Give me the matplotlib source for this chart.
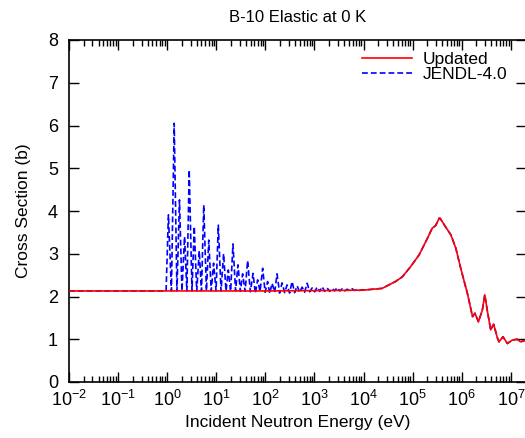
import math
import matplotlib
matplotlib.use("Agg")
import matplotlib.pyplot as plt
from matplotlib.ticker import LogLocator, FixedLocator, FuncFormatter, NullFormatter

plt.rcParams['font.family'] = ['Liberation Sans', 'DejaVu Sans']
plt.rcParams['mathtext.fontset'] = 'custom'
plt.rcParams['mathtext.rm'] = 'Liberation Sans'
plt.rcParams['mathtext.it'] = 'Liberation Sans'

# -------------------------------
# Data (energy in eV, cross section in barns)
# -------------------------------
# smooth evaluated curve, shared by both libraries above ~10 keV
hi_energy = [1.0e4, 2.4e4, 4.47e4, 6.17e4, 9.12e4, 1.35e5, 2.0e5, 2.51e5,
             2.95e5, 3.47e5, 3.63e5, 4.68e5, 6.03e5, 7.59e5, 9.55e5, 1.32e6,
             1.66e6, 1.86e6, 2.19e6, 2.63e6, 2.95e6, 3.31e6, 3.89e6, 4.47e6,
             5.37e6, 5.75e6, 6.92e6, 8.51e6, 1.07e7, 1.35e7, 1.58e7, 2.04e7]
hi_xs = [2.15, 2.19, 2.35, 2.46, 2.70, 2.97, 3.36, 3.60,
         3.66, 3.83, 3.83, 3.63, 3.44, 3.13, 2.66, 2.05,
         1.53, 1.61, 1.41, 1.68, 2.04, 1.68, 1.22, 1.35,
         1.02, 0.94, 1.06, 0.90, 0.98, 1.00, 0.94, 0.98]

# Updated evaluation: flat below 10 keV
upd_low_energy = [1.0e-2, 1.0e0, 1.0e2, 2.14e3]
upd_low_xs = [2.13, 2.13, 2.13, 2.14]

# JENDL-4.0: oscillating structure between 1 eV and 10 keV
jendl_low_energy = [1.0e-2, 0.95,
                    1.06, 1.22, 1.39, 1.58, 1.78, 2.0, 2.26, 2.52, 2.81, 3.2,
                    3.56, 4.0, 4.50, 5.0, 5.56, 6.3, 7.03, 7.9, 8.81, 9.9,
                    11.0, 12.5, 14.1, 15.8, 17.6, 19.6, 21.9, 24.7, 27.7, 31.0,
                    34.4, 38.7, 43.5, 49.5, 56.1, 62.5, 69.6, 78.0, 88.1, 99.0,
                    111, 123, 137, 155, 173, 195, 219, 247, 277, 312,
                    351, 395, 444, 500, 561, 630, 710, 800, 898, 1010,
                    1135, 1280, 1435, 1610, 1815, 2040, 2296, 2580, 2904, 3270,
                    3673, 4130, 4645, 5230, 5875, 6600, 7430, 8360, 9397]
jendl_low_xs = [2.13, 2.13,
                3.91, 2.13, 6.05, 2.13, 4.26, 2.13, 3.40, 2.13, 4.96, 2.13,
                3.64, 2.13, 3.07, 2.13, 4.14, 2.13, 3.32, 2.13, 2.78, 2.13,
                3.67, 2.13, 3.00, 2.13, 2.62, 2.12, 3.23, 2.13, 2.74, 2.12,
                2.53, 2.12, 2.84, 2.11, 2.54, 2.07, 2.39, 2.12, 2.66, 2.10,
                2.35, 2.07, 2.31, 2.10, 2.53, 2.08, 2.32, 2.09, 2.27, 2.08,
                2.35, 2.09, 2.25, 2.10, 2.22, 2.10, 2.31, 2.11, 2.20, 2.11,
                2.22, 2.12, 2.23, 2.12, 2.20, 2.12, 2.19, 2.13, 2.21, 2.13,
                2.18, 2.13, 2.17, 2.13, 2.18, 2.14, 2.17, 2.14, 2.16]

upd_energy = upd_low_energy + hi_energy
upd_xs = upd_low_xs + hi_xs
jendl_energy = jendl_low_energy + hi_energy
jendl_xs = jendl_low_xs + hi_xs

x_decades = list(range(-2, 8))
y_ticks = list(range(0, 9))

# -------------------------------
# Plot
# -------------------------------
fig = plt.figure(figsize=(5.25, 4.38), dpi=100)
ax = fig.add_axes([69/525, 1 - 382/438, 457/525, 342/438])

ax.plot(jendl_energy, jendl_xs, color="#0000ff", lw=1.2, ls=(0, (3.5, 1.8)),
        label="JENDL-4.0", zorder=2)
ax.plot(upd_energy, upd_xs, color="#ff0000", lw=1.2, label="Updated", zorder=3)

ax.set_xscale("log")
ax.set_xlim(1e-2, 2.04e7)
ax.set_ylim(0, 8)

ax.xaxis.set_major_locator(FixedLocator([10.0 ** d for d in x_decades]))
ax.xaxis.set_major_formatter(FuncFormatter(
    lambda v, p: r"$\mathregular{10^{%d}}$" % round(math.log10(v))))
ax.xaxis.set_minor_locator(LogLocator(base=10, subs=range(2, 10), numticks=50))
ax.xaxis.set_minor_formatter(NullFormatter())
ax.yaxis.set_major_locator(FixedLocator(y_ticks))

ax.tick_params(which="both", direction="in", top=True, right=True,
               labelsize=13, width=1.0, colors="black")
ax.tick_params(which="major", length=7)
ax.tick_params(which="minor", length=4)
ax.tick_params(axis="y", pad=8)
ax.tick_params(axis="x", pad=6)
for s in ax.spines.values():
    s.set_linewidth(1.2)

ax.set_xlabel("Incident Neutron Energy (eV)", fontsize=12.5, labelpad=3)
ax.set_ylabel("Cross Section (b)", fontsize=12.5, labelpad=12)
ax.set_title("B-10 Elastic at 0 K", fontsize=12, pad=13)

handles, labels = ax.get_legend_handles_labels()
ax.legend(handles[::-1], labels[::-1], loc="upper right", frameon=False,
          fontsize=12.5, handlelength=2.9, handletextpad=0.6,
          labelspacing=-0.05, borderaxespad=0.3, bbox_to_anchor=(0.985, 1.0))

fig.savefig("out.png", dpi=100)
